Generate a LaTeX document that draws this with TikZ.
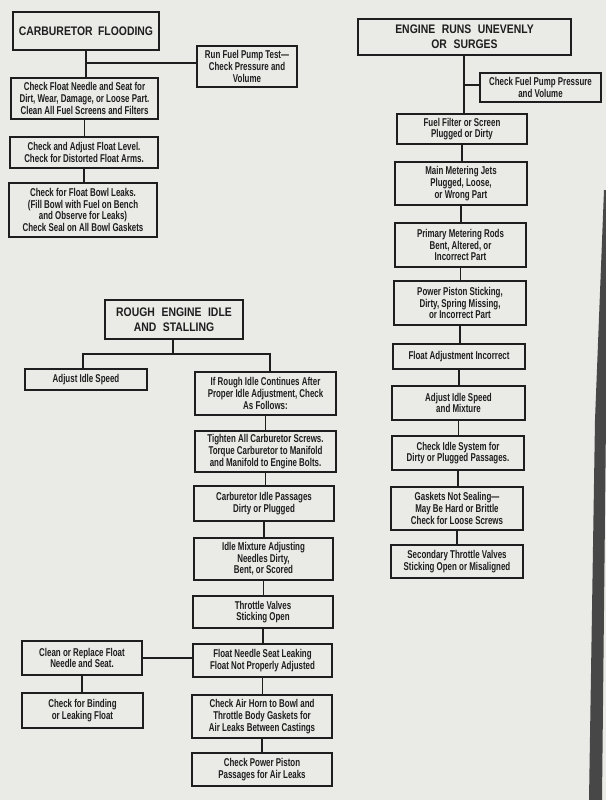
\documentclass[tikz,border=0pt]{standalone}
\usepackage{fontspec}
\newfontfamily\boxfont{Liberation Sans Bold}[FakeStretch=0.70]
\newfontfamily\titlefont{Liberation Sans Bold}[FakeStretch=0.84]
\definecolor{paper}{HTML}{EAEAE7}
\definecolor{ink}{HTML}{1E1E1E}
\definecolor{strip}{HTML}{474747}
\tikzset{
  box/.style={draw=ink, line width=1.2pt, inner sep=0pt, align=center, text=ink,
    font=\boxfont\fontsize{8.5}{8.7}\selectfont},
  titlebox/.style={box, font=\titlefont\fontsize{9.3}{11.5}\selectfont},
  link/.style={draw=ink, line width=1.2pt}
}
\newcommand\bx[7][box]{\node[#1, minimum width={(#5-#3)*0.75pt}, minimum height={(#6-#4)*0.75pt}] (#2) at ({(#3+#5)/2},{(#4+#6)/2}) {#7};}
\begin{document}
\begin{tikzpicture}[x=0.75pt,y=-0.75pt]
\fill[paper] (0,0) rectangle (606,800);
\useasboundingbox (0,0) rectangle (606,800);
\fill[strip] (604,190) -- (606,190) -- (606,420) -- (602,800) -- (589,800) -- (595,420) -- cycle;

% Carburetor flooding
\bx[titlebox]{cf}{13}{12}{159}{50}{CARBURETOR\hspace{0.2em} FLOODING}
\bx{rp}{197}{46}{297}{87}{Run Fuel Pump Test—\\Check Pressure and\\Volume}
\bx{fn}{11}{78}{158}{119}{Check Float Needle and Seat for\\Dirt, Wear, Damage, or Loose Part.\\Clean All Fuel Screens and Filters}
\bx{fl}{10}{137}{158}{168}{Check and Adjust Float Level.\\Check for Distorted Float Arms.}
\bx{fb}{9}{183}{157}{237}{Check for Float Bowl Leaks.\\(Fill Bowl with Fuel on Bench\\and Observe for Leaks)\\Check Seal on All Bowl Gaskets}
\coordinate (cfj) at (86,63);
\draw[link] (cf.south -| cfj) -- (cfj |- fn.north);
\draw[link] (cfj) -- (cfj -| rp.west);
\draw[link] (fn.south) -- (fn.south |- fl.north);
\draw[link] (fl.south) -- (fl.south |- fb.north);

% Engine runs unevenly
\bx[titlebox]{er}{358}{19}{571}{55}{ENGINE\hspace{0.3em} RUNS\hspace{0.3em} UNEVENLY\\OR\hspace{0.3em} SURGES}
\bx{pp}{480}{73}{601}{102}{Check Fuel Pump Pressure\\and Volume}
\bx{ff}{397}{114}{527}{144}{Fuel Filter or Screen\\Plugged or Dirty}
\bx{mj}{395}{162}{527}{205}{Main Metering Jets\\Plugged, Loose,\\or Wrong Part}
\bx{mr}{395}{223}{526}{267}{Primary Metering Rods\\Bent, Altered, or\\Incorrect Part}
\bx{ps}{394}{281}{526}{325}{Power Piston Sticking,\\Dirty, Spring Missing,\\or Incorrect Part}
\bx{fa}{393}{344}{525}{369}{Float Adjustment Incorrect}
\bx{ad}{392}{386}{525}{420}{Adjust Idle Speed\\and Mixture}
\bx{is}{392}{436}{524}{470}{Check Idle System for\\Dirty or Plugged Passages.}
\bx{gs}{391}{487}{523}{530}{Gaskets Not Sealing—\\May Be Hard or Brittle\\Check for Loose Screws}
\bx{st}{391}{545}{523}{578}{Secondary Throttle Valves\\Sticking Open or Misaligned}
\coordinate (erj) at (464,85);
\draw[link] (er.south -| erj) -- (erj |- ff.north);
\draw[link] (erj) -- (erj -| pp.west);
\draw[link] (ff.south) -- (ff.south |- mj.north);
\draw[link] (mj.south) -- (mj.south |- mr.north);
\draw[link] (mr.south) -- (mr.south |- ps.north);
\draw[link] (ps.south) -- (ps.south |- fa.north);
\draw[link] (fa.south) -- (fa.south |- ad.north);
\draw[link] (ad.south) -- (ad.south |- is.north);
\draw[link] (is.south) -- (is.south |- gs.north);
\draw[link] (gs.south) -- (gs.south |- st.north);

% Rough engine idle
\bx[titlebox]{ri}{105}{300}{243}{339}{ROUGH\hspace{0.3em} ENGINE\hspace{0.3em} IDLE\\AND\hspace{0.3em} STALLING}
\bx{ais}{25}{369}{147}{390}{Adjust Idle Speed}
\bx{ir}{195}{372}{336}{415}{If Rough Idle Continues After\\Proper Idle Adjustment, Check\\As Follows:}
\bx{tc}{195}{431}{336}{472}{Tighten All Carburetor Screws.\\Torque Carburetor to Manifold\\and Manifold to Engine Bolts.}
\bx{cp}{194}{486}{334}{521}{Carburetor Idle Passages\\Dirty or Plugged}
\bx{im}{194}{538}{333}{580}{Idle Mixture Adjusting\\Needles Dirty,\\Bent, or Scored}
\bx{tv}{193}{596}{333}{628}{Throttle Valves\\Sticking Open}
\bx{fs}{193}{644}{332}{677}{Float Needle Seat Leaking\\Float Not Properly Adjusted}
\bx{cr}{22}{641}{142}{675}{Clean or Replace Float\\Needle and Seat.}
\bx{cb}{22}{693}{143}{728}{Check for Binding\\or Leaking Float}
\bx{ah}{192}{695}{332}{738}{Check Air Horn to Bowl and\\Throttle Body Gaskets for\\Air Leaks Between Castings}
\bx{pw}{192}{753}{332}{786}{Check Power Piston\\Passages for Air Leaks}
\coordinate (rij) at (173,354);
\coordinate (rl) at (83,354);
\coordinate (rr) at (270,354);
\draw[link] (ri.south -| rij) -- (rij);
\draw[link] (rl |- ais.north) -- (rl) -- (rr) -- (rr |- ir.north);
\draw[link] (ir.south -| tc.south) -- (tc.north);
\draw[link] (tc.south) -- (tc.south |- cp.north);
\draw[link] (cp.south) -- (cp.south |- im.north);
\draw[link] (im.south) -- (im.south |- tv.north);
\draw[link] (tv.south) -- (tv.south |- fs.north);
\draw[link] (fs.south) -- (fs.south |- ah.north);
\draw[link] (ah.south) -- (ah.south |- pw.north);
\draw[link] (cr.east) -- (cr.east -| fs.west);
\draw[link] (cr.south) -- (cr.south |- cb.north);
\end{tikzpicture}
\end{document}
